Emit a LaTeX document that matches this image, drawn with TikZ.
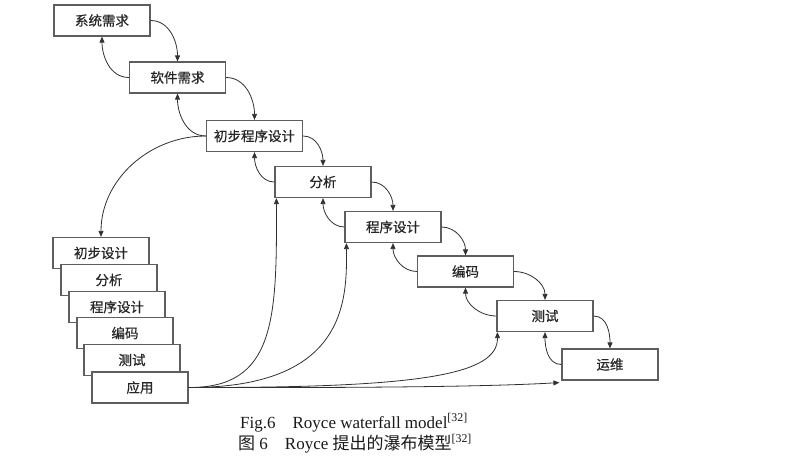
\documentclass[tikz,border=0pt]{standalone}
\usepackage{fontspec}
\setmainfont{Liberation Serif}
\newfontfamily\cjk{Noto Sans CJK SC}
\newfontfamily\cjkbold[FakeBold=0.6]{Noto Sans CJK SC}
\usetikzlibrary{arrows.meta}
\definecolor{boxgray}{HTML}{5E5E5E}
\definecolor{linegray}{HTML}{303030}
\begin{document}
\begin{tikzpicture}[x=1pt,y=-1pt,
  box/.style={draw=boxgray, line width=1.2pt, fill=white, minimum width=96pt, minimum height=31pt, inner sep=0pt, font=\cjkbold\fontsize{13.5}{13.5}\selectfont, text=black!85},
  conn/.style={draw=linegray, line width=0.8pt, -{Triangle[length=6pt,width=5pt]}},
  captext/.style={anchor=base west, inner sep=0pt, font=\fontsize{17}{17}\selectfont, text=black!90},
]
\useasboundingbox (0,0) rectangle (794,466);

% main cascade
\node[box] (s1) at (102,20.5) {系统需求};
\node[box] (s2) at (177.5,77.5) {软件需求};
\node[box] (s3) at (254.5,136) {初步程序设计};
\node[box] (s4) at (323,182) {分析};
\node[box] (s5) at (393,227) {程序设计};
\node[box] (s6) at (465.5,271.5) {编码};
\node[box] (s7) at (545,316) {测试};
\node[box] (s8) at (610,364.5) {运维};

% left stack
\node[box] (t1) at (101,253) {初步设计};
\node[box] (t2) at (109,280) {分析};
\node[box] (t3) at (117,307) {程序设计};
\node[box] (t4) at (125,333) {编码};
\node[box] (t5) at (132,360) {测试};
\node[box] (t6) at (140,387.5) {应用};

% forward arrows
\foreach \a/\b in {s1/s2,s2/s3,s3/s4,s4/s5,s5/s6,s6/s7,s7/s8}
  \draw[conn] (\a.east) to[out=0,in=90] (\b.north);
% backward arrows
\foreach \a/\b in {s2/s1,s3/s2,s4/s3,s5/s4,s6/s5,s7/s6,s8/s7}
  \draw[conn] (\a.west) to[out=180,in=-90] (\b.south);

% big curve to left stack
\draw[conn] (s3.west) to[out=180,in=90] (t1.north);

% curves from 应用
\coordinate (e4) at ([xshift=2pt]s4.south west);
\coordinate (e5) at ([xshift=2pt]s5.south west);
\coordinate (e7) at ([xshift=1pt]s7.south west);
\coordinate (e8) at ([xshift=-2pt,yshift=-2pt]s8.south west);
\draw[conn] (t6.east) .. controls (275,388) and (277,320) .. (e4);
\draw[conn] (t6.east) .. controls (347,388) and (347,300) .. (e5);
\draw[conn] (t6.east) .. controls (420,388) and (498,375) .. (e7);
\draw[conn] (t6.east) .. controls (400,388) and (500,386) .. (e8);

% caption
\node[captext] (cap1) at (240,428) {Fig.6\hspace{17pt}Royce waterfall model\textsuperscript{[32]}};
\node[captext] (cap2) at (238,449) {{\cjk 图} 6\hspace{17pt}Royce {\cjk 提出的瀑布模型}\textsuperscript{[32]}};
\end{tikzpicture}
\end{document}
